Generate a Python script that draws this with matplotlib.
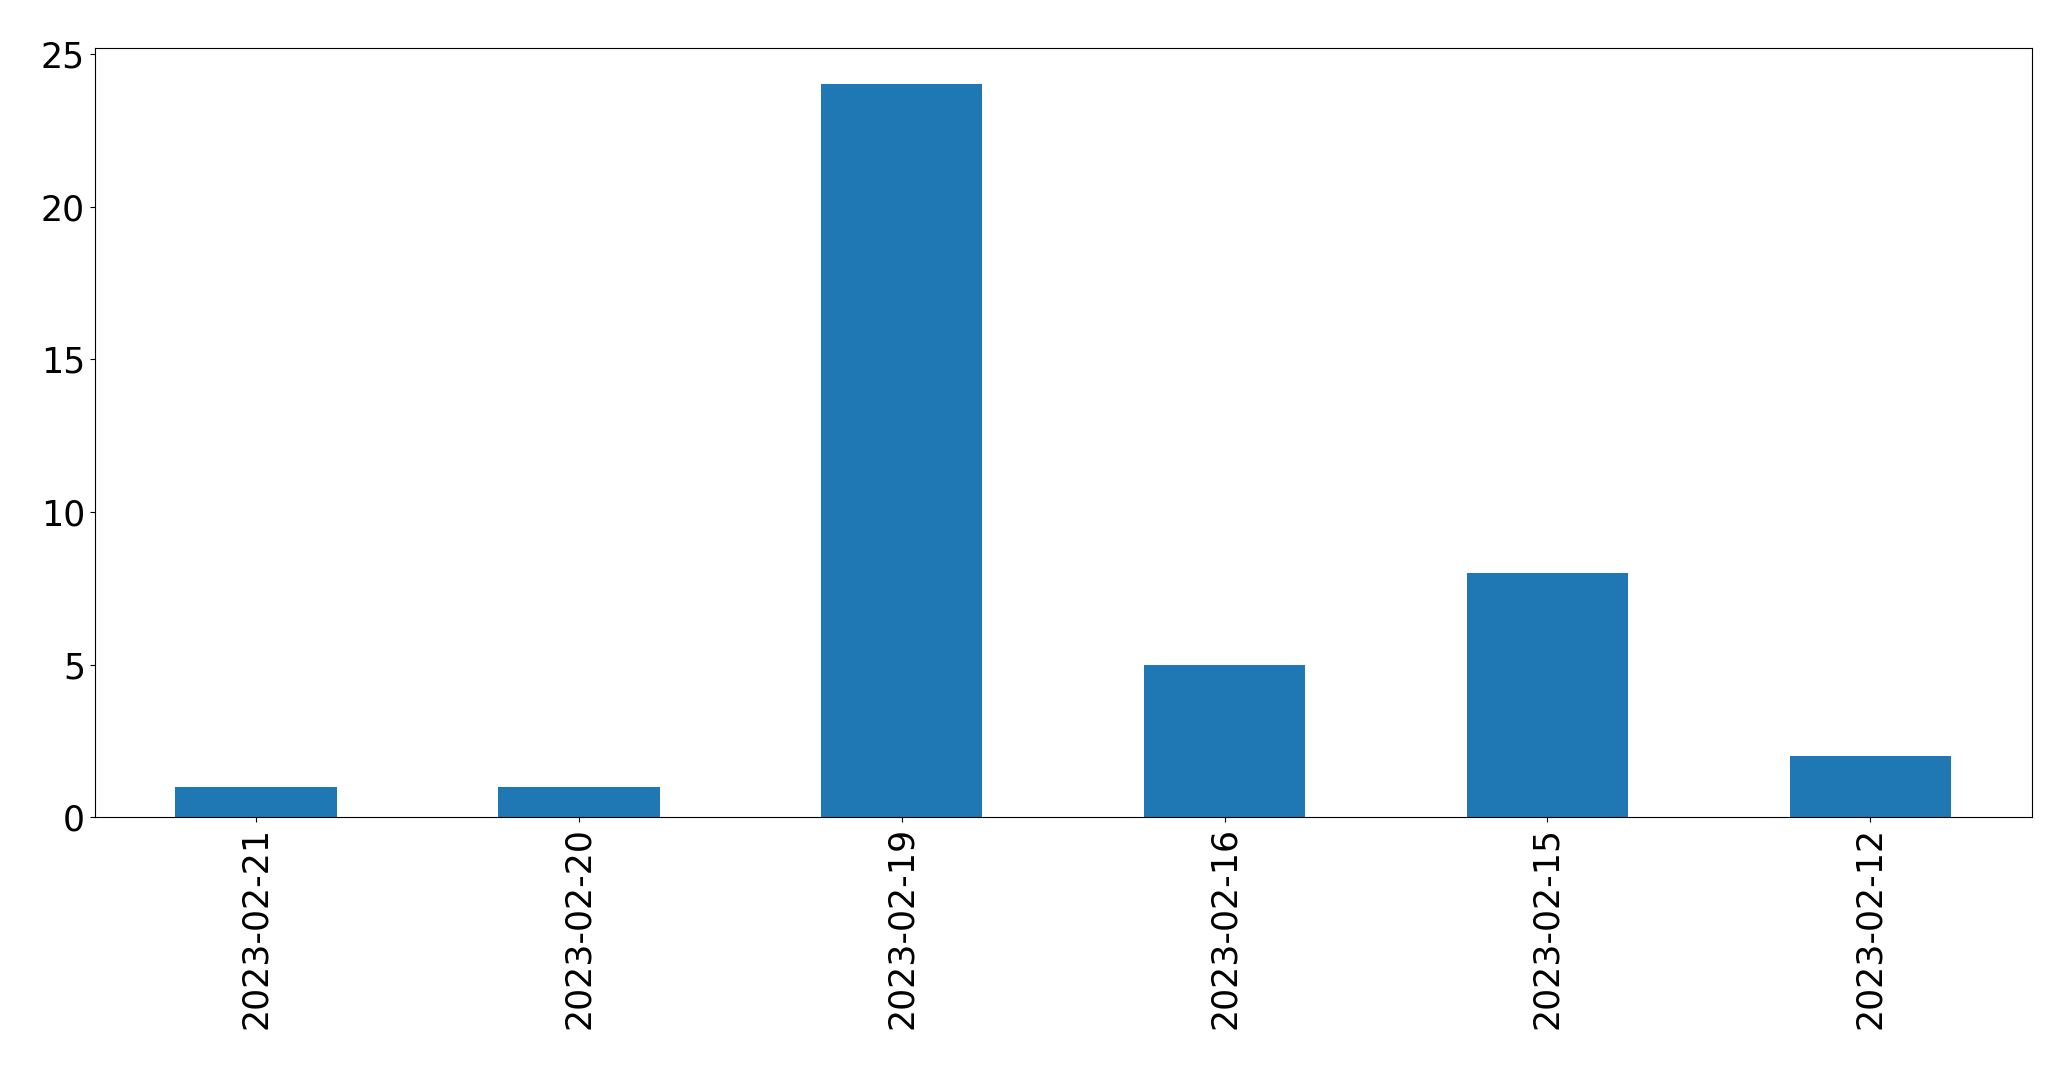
import pandas as pd
import matplotlib
matplotlib.use("Agg")
import matplotlib.pyplot as plt

dates = ["2023-02-21", "2023-02-20", "2023-02-19", "2023-02-16", "2023-02-15", "2023-02-12"]
counts = [1, 1, 24, 5, 8, 2]

s = pd.Series(counts, index=dates)

fig, ax = plt.subplots(figsize=(20.71, 10.69), dpi=100)
s.plot(kind="bar", ax=ax, color="#1f77b4")
ax.tick_params(axis="both", labelsize=25)
plt.subplots_adjust(left=0.0457, right=0.981, top=0.9554, bottom=0.2354)
plt.savefig("out.png", dpi=100)
plt.close()
